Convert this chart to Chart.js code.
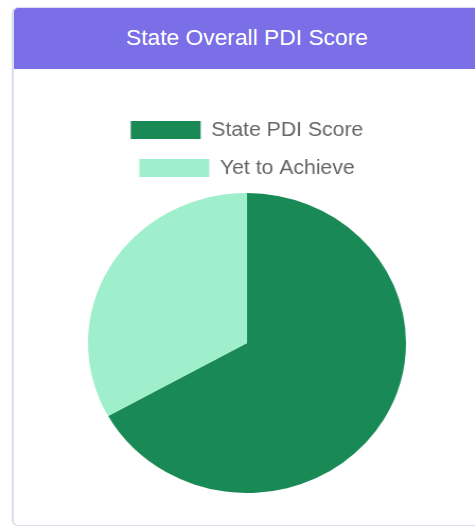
<!DOCTYPE html>
<html>
<head>
<meta charset="utf-8">
<script src="https://cdn.jsdelivr.net/npm/chart.js@4/dist/chart.umd.min.js"></script>
<style>
  html, body { margin: 0; padding: 0; background: #fff; }
  #stage {
    position: absolute; left: 0; top: 0; width: 448px; height: 527px;
    transform: scaleX(1.06); transform-origin: 0 0;
  }
  .card {
    position: absolute; left: 11px; top: 7px; width: 440px; height: 517px;
    border: 1px solid #d9dcea; border-left-width: 2px; border-radius: 6px;
    overflow: hidden; background: #fff;
  }
  .card-header {
    height: 61px; background: #7b6fe8; color: #fff;
    font: 21.5px "Liberation Sans", Arial, sans-serif;
    display: flex; align-items: center; justify-content: center;
  }
  .chart-box {
    position: absolute; left: 20px; top: 94px; width: 400px; height: 391px;
  }
</style>
</head>
<body>
<div id="stage">
  <div class="card">
    <div class="card-header">State Overall PDI Score</div>
    <div class="chart-box"><canvas id="pdiChart"></canvas></div>
  </div>
</div>
<script>
const labels = ['State PDI Score', 'Yet to Achieve'];
const scores = [66.9, 33.1];
const colors = ['#198a55', '#9fefcc'];

const LEGEND_H = 91;

// squeeze the legend box so the pie sits right under it
const legendHeight = {
    id: 'legendHeight',
    beforeInit(chart) {
        if (!chart.legend) return;
        const fit = chart.legend.fit;
        chart.legend.fit = function () {
            fit.call(this);
            this.height = LEGEND_H;
        };
    }
};

const ctx = document.getElementById('pdiChart').getContext('2d');
new Chart(ctx, {
    type: 'pie',
    data: {
        labels: labels,
        datasets: [{
            data: scores,
            backgroundColor: colors,
            borderWidth: 0
        }]
    },
    options: {
        responsive: true,
        maintainAspectRatio: false,
        animation: false,
        layout: { padding: 0 },
        plugins: {
            legend: {
                position: 'top',
                labels: {
                    boxWidth: 66,
                    boxHeight: 18,
                    padding: 18,
                    color: '#666',
                    font: { family: '"Liberation Sans", Arial, sans-serif', size: 20 }
                }
            },
            tooltip: { enabled: false }
        }
    },
    plugins: [legendHeight]
});
</script>
</body>
</html>
